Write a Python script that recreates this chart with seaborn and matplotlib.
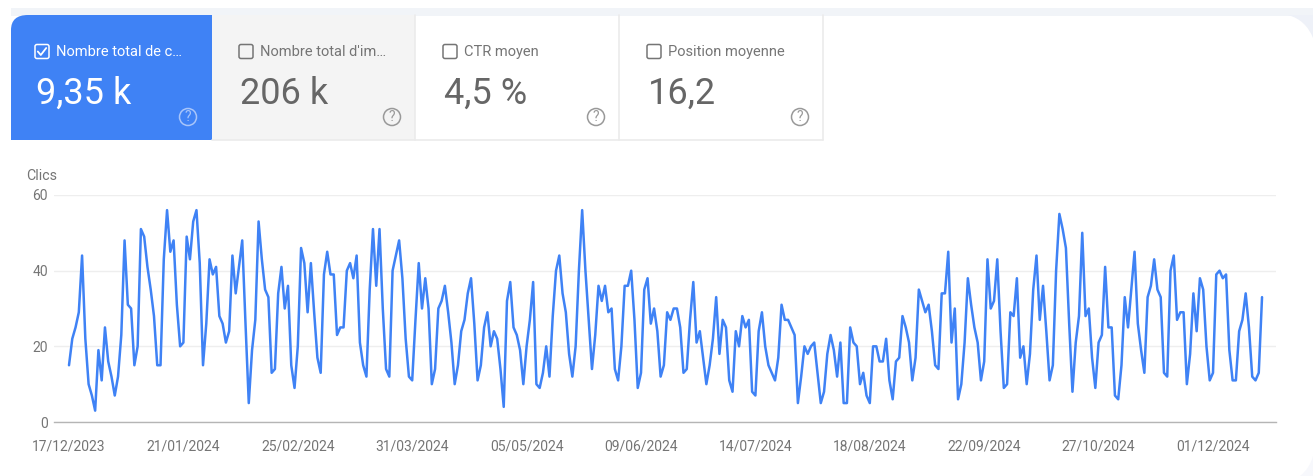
import matplotlib
matplotlib.use("Agg")
import matplotlib.pyplot as plt
from matplotlib.patches import Rectangle, FancyBboxPatch, Circle, PathPatch
from matplotlib.path import Path
import pandas as pd
import seaborn as sns

clicks = [15,22,25,29,44,22,10,7,3,19,11,25,16,12,7,12,23,48,31,30,15,20,51,49,41,35,28,15,15,43,
          56,45,48,31,20,21,49,43,53,56,42,15,26,43,39,41,28,26,21,24,44,34,41,48,26,5,19,27,53,43,
          35,33,13,14,34,41,30,36,15,9,20,46,42,29,42,29,17,13,39,45,39,39,23,25,25,40,42,38,44,21,
          15,12,35,51,36,51,30,14,12,40,44,48,38,22,12,11,27,42,30,38,30,10,14,30,32,36,29,21,10,15,
          24,27,34,38,26,11,15,25,29,20,24,22,14,4,32,37,25,23,19,10,20,27,37,10,9,13,20,12,28,40,
          44,34,29,18,12,20,40,56,40,27,14,23,36,32,36,29,30,14,11,20,36,36,40,27,9,13,35,38,26,30,
          24,12,15,29,27,30,30,25,13,14,27,37,21,24,17,10,15,22,33,18,27,25,11,8,24,20,28,25,27,8,
          7,24,29,20,15,13,11,17,31,27,27,25,23,5,12,20,18,20,21,13,5,8,18,23,19,12,21,5,5,25,21,20,
          10,13,7,5,20,20,16,16,22,11,6,16,17,28,25,21,11,17,35,32,29,31,24,15,14,34,34,45,21,30,6,10,
          21,38,31,25,21,11,16,43,30,32,43,24,9,10,29,28,38,17,20,10,18,35,44,27,36,24,11,15,40,55,51,
          46,26,8,21,28,50,28,30,17,9,21,23,41,25,25,7,6,15,33,25,35,45,26,19,13,33,36,43,35,33,13,12,
          40,44,27,29,29,10,18,34,24,38,35,20,11,13,39,40,38,39,19,11,11,24,27,34,25,12,11,13,33]
start_date = "2023-12-17"
tick_dates = ["17/12/2023","21/01/2024","25/02/2024","31/03/2024","05/05/2024","09/06/2024",
              "14/07/2024","18/08/2024","22/09/2024","27/10/2024","01/12/2024"]
y_ticks = [0, 20, 40, 60]
card_labels = ["Nombre total de c…", "Nombre total d'im…", "CTR moyen", "Position moyenne"]
card_values = ["9,35 k", "206 k", "4,5 %", "16,2"]

W, H = 1313, 476
BLUE = "#3f82f5"
GREY = "#757575"
sns.set_theme(style="white")
plt.rcParams["font.family"] = ["Roboto", "DejaVu Sans"]

df = pd.DataFrame({"date": pd.date_range(start_date, periods=len(clicks), freq="D"), "clicks": clicks})
fig = plt.figure(figsize=(W / 100, H / 100), dpi=100, facecolor="white")

# pixel-space overlay for the scorecards
bg = fig.add_axes([0, 0, 1, 1], zorder=0)
bg.set_xlim(0, W); bg.set_ylim(H, 0); bg.axis("off")
bg.add_patch(Rectangle((11, 8), W - 11, 7.5, fc="#f1f4f8", ec="none"))
bg.add_patch(PathPatch(Path(
    [(1288, 15), (1313, 15), (1313, 38), (1313, 38), (1306, 20), (1288, 15)],
    [Path.MOVETO, Path.LINETO, Path.LINETO, Path.MOVETO, Path.CURVE3, Path.CURVE3]),
    fc="#eef1f8", ec="none"))
bg.add_patch(PathPatch(Path(
    [(1313, 456), (1313, 476), (1300, 476), (1310, 468), (1313, 456)],
    [Path.MOVETO, Path.LINETO, Path.LINETO, Path.CURVE3, Path.CURVE3]),
    fc="#f7f8fc", ec="none"))
bg.add_patch(Rectangle((212, 15), 203, 125, fc="#f4f4f4", ec="none"))
bg.plot([212, 823], [140, 140], color="#ebebeb", lw=1.2)
for x in (415, 619, 823):
    bg.plot([x, x], [15, 140], color="#ebebeb", lw=1.2)
bg.add_patch(PathPatch(Path(
    [(11, 140), (11, 30), (11, 15), (28, 15), (212, 15), (212, 140), (11, 140)],
    [Path.MOVETO, Path.LINETO, Path.CURVE3, Path.CURVE3, Path.LINETO, Path.LINETO, Path.CLOSEPOLY]),
    fc=BLUE, ec="none"))

for i, (label, value) in enumerate(zip(card_labels, card_values)):
    x0 = 35 + i * 204
    c = "white" if i == 0 else GREY
    vc = "white" if i == 0 else "#666666"
    icon = "#a8c5fa" if i == 0 else "#999999"
    bg.add_patch(FancyBboxPatch((x0, 44.5), 14, 14, boxstyle="round,pad=0,rounding_size=2",
                                fc="none", ec=c, lw=1.1))
    if i == 0:
        bg.plot([x0 + 2.8, x0 + 5.8, x0 + 11.2], [51.5, 55, 48], color="white", lw=1.3)
    bg.text(x0 + 21.5, 52, label, color=c, fontsize=10.5, va="center", ha="left")
    bg.text(x0 + 0.5, 93.5, value, color=vc, fontsize=26, va="center", ha="left")
    bg.add_patch(Circle((x0 + 153, 117), 8.5, fc="none", ec=icon, lw=1.1))
    bg.text(x0 + 153, 117, "?", color=icon, fontsize=10, ha="center", va="center")

# chart axes: 54..1276 px, y=0 at 422 px, y=60 at 195 px
ax = fig.add_axes([54 / W, 1 - 422 / H, (1276 - 54) / W, (422 - 195) / H], zorder=1)
ax.patch.set_alpha(0)
sns.lineplot(data=df, x="date", y="clicks", ax=ax, color=BLUE, lw=1.8, errorbar=None)
px_per_day = 114.4 / 35
d0 = df["date"].iloc[0]
ax.set_xlim(d0 - pd.Timedelta(days=15 / px_per_day), d0 + pd.Timedelta(days=(1276 - 69) / px_per_day))
ax.set_ylim(0, 60)
ax.set_xticks(pd.to_datetime(tick_dates, format="%d/%m/%Y"))
ax.set_xticklabels(tick_dates)
ax.set_yticks(y_ticks)
ax.tick_params(axis="both", length=0, labelsize=10, labelcolor=GREY)
ax.tick_params(axis="x", pad=12.5)
ax.tick_params(axis="y", pad=4.3)
ax.set_xlabel(""); ax.set_ylabel("")
ax.grid(axis="y", color="#eeeeee", lw=1)
ax.set_axisbelow(True)
for s in ("top", "left", "right"):
    ax.spines[s].set_visible(False)
ax.spines["bottom"].set_color("#b5b5b5")
ax.spines["bottom"].set_linewidth(1)
bg.text(26, 175.5, "Clics", color=GREY, fontsize=10.2, va="center", ha="left")

fig.savefig("out.png", dpi=100, facecolor="white")
